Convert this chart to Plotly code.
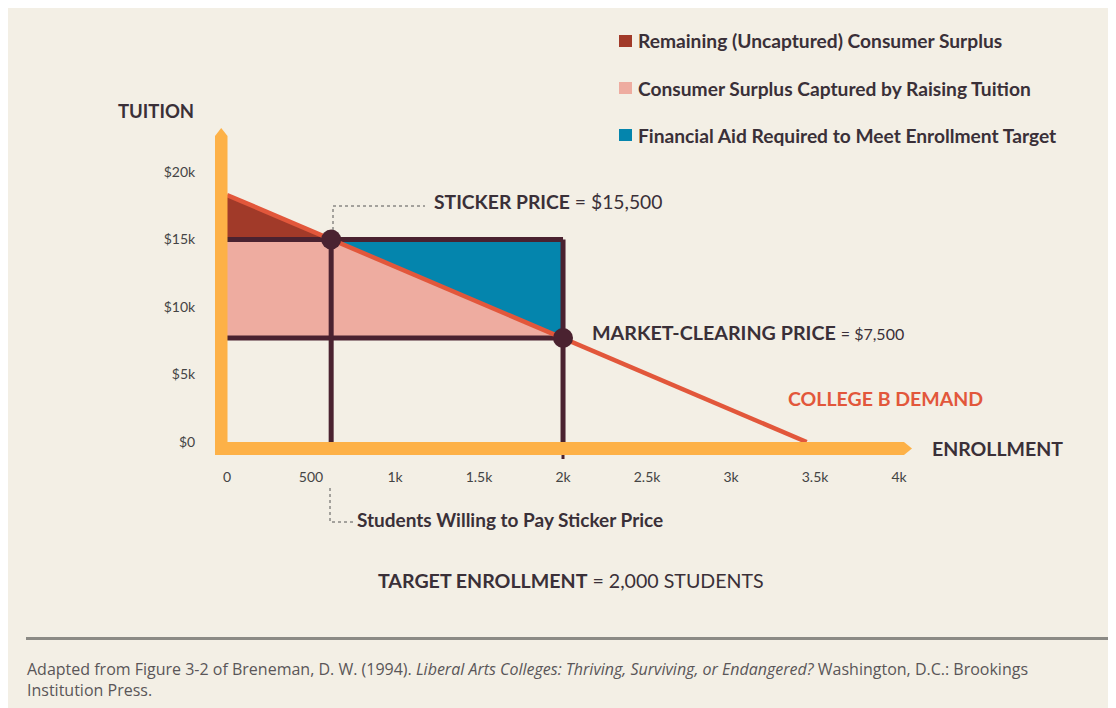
import plotly.graph_objects as go

# ---------------- data ----------------
demand_x = [0, 620, 2000, 3450]          # students
demand_y = [18300, 15000, 7700, 0]       # tuition ($)
sticker_students = 620
sticker_price = 15000
target_students = 2000
clearing_price = 7700

x_tickvals = [0, 500, 1000, 1500, 2000, 2500, 3000, 3500, 4000]
x_ticktext = ["0", "500", "1k", "1.5k", "2k", "2.5k", "3k", "3.5k", "4k"]
y_tickvals = [0, 5000, 10000, 15000, 20000]
y_ticktext = ["$0", "$5k", "$10k", "$15k", "$20k"]

legend_labels = ["Remaining (Uncaptured) Consumer Surplus",
                 "Consumer Surplus Captured by Raising Tuition",
                 "Financial Aid Required to Meet Enrollment Target"]

# ---------------- style ----------------
BG = "#f3efe5"
DARKRED = "#a13a29"
PINK = "#eeaca0"
BLUE = "#0485ad"
PLUM = "#4a2230"
ORANGE = "#fdb147"
DEMAND = "#e2573b"
TXT = "#3a3038"
FONT = "Lato, 'Open Sans', sans-serif"
FOOT_FONT = "'Open Sans', Lato, sans-serif"

OFF = 8  # page body margin
W, H = 1108, 700
L, R, T, B = 219, 204, 120, 266
PW, PH = W - L - R, H - T - B


def px(xp):  # page pixel -> paper x
    return (xp - OFF - L) / PW


def py(yp):  # page pixel -> paper y
    return (H - B - (yp - OFF)) / PH


fig = go.Figure()

# dark red triangle (uncaptured surplus)
fig.add_trace(go.Scatter(
    x=[0, sticker_students, 0], y=[demand_y[0], sticker_price, sticker_price],
    fill="toself", fillcolor=DARKRED, mode="lines", line=dict(width=0),
    hoverinfo="skip", showlegend=False))
# pink region (captured surplus)
fig.add_trace(go.Scatter(
    x=[0, sticker_students, target_students, 0],
    y=[sticker_price, sticker_price, clearing_price, clearing_price],
    fill="toself", fillcolor=PINK, mode="lines", line=dict(width=0),
    hoverinfo="skip", showlegend=False))
# blue triangle (financial aid)
fig.add_trace(go.Scatter(
    x=[sticker_students, target_students, target_students],
    y=[sticker_price, sticker_price, clearing_price],
    fill="toself", fillcolor=BLUE, mode="lines", line=dict(width=0),
    hoverinfo="skip", showlegend=False))

# plum guide lines
for xs, ys in [([0, target_students], [sticker_price, sticker_price]),
               ([0, target_students], [clearing_price, clearing_price]),
               ([sticker_students, sticker_students], [0, sticker_price]),
               ([target_students, target_students], [0, sticker_price])]:
    fig.add_trace(go.Scatter(x=xs, y=ys, mode="lines",
                             line=dict(color=PLUM, width=5),
                             hoverinfo="skip", showlegend=False))

# demand curve
fig.add_trace(go.Scatter(x=demand_x, y=demand_y, mode="lines",
                         line=dict(color=DEMAND, width=4.5),
                         hoverinfo="skip", showlegend=False))

# points
fig.add_trace(go.Scatter(x=[sticker_students, target_students],
                         y=[sticker_price, clearing_price], mode="markers",
                         marker=dict(color=PLUM, size=20),
                         hoverinfo="skip", showlegend=False))

shapes = []

# orange axes with arrow heads
vx0, vx1 = px(215), px(227.5)
shapes.append(dict(type="path", xref="paper", yref="paper", layer="above",
                   path=f"M {vx0} {py(455)} L {vx0} {py(136)} L {px(221.2)} {py(128)} "
                        f"L {vx1} {py(136)} L {vx1} {py(455)} Z",
                   fillcolor=ORANGE, line=dict(width=0)))
hy0, hy1 = py(442), py(455)
shapes.append(dict(type="path", xref="paper", yref="paper", layer="above",
                   path=f"M {px(215)} {hy0} L {px(904)} {hy0} L {px(912)} {py(448.5)} "
                        f"L {px(904)} {hy1} L {px(215)} {hy1} Z",
                   fillcolor=ORANGE, line=dict(width=0)))
# small tick below axis at target enrollment
shapes.append(dict(type="line", xref="paper", yref="paper", layer="above",
                   x0=px(563), x1=px(563), y0=py(455), y1=py(459),
                   line=dict(color=PLUM, width=3)))

# dotted leaders
shapes.append(dict(type="path", xref="paper", yref="paper",
                   path=f"M {px(333)} {py(230)} L {px(333)} {py(206)} L {px(425)} {py(206)}",
                   line=dict(color="#555", width=1, dash="dot")))
shapes.append(dict(type="path", xref="paper", yref="paper",
                   path=f"M {px(330)} {py(488)} L {px(330)} {py(522)} L {px(355)} {py(522)}",
                   line=dict(color="#555", width=1, dash="dot")))

# footer rule
shapes.append(dict(type="line", xref="paper", yref="paper",
                   x0=px(26), x1=px(W + OFF), y0=py(638.5), y1=py(638.5),
                   line=dict(color="#8b8a85", width=3)))

# legend squares
leg_colors = [DARKRED, PINK, BLUE]
leg_y = [41, 88, 135]
for c, yy in zip(leg_colors, leg_y):
    shapes.append(dict(type="rect", xref="paper", yref="paper",
                       x0=px(619), x1=px(632), y0=py(yy - 6), y1=py(yy + 6),
                       fillcolor=c, line=dict(width=0)))

annotations = []


def ann(text, xp, yp, size, color=TXT, anchor="left", family=FONT):
    annotations.append(dict(text=text, xref="paper", yref="paper",
                            x=px(xp), y=py(yp), xanchor=anchor, yanchor="middle",
                            showarrow=False, font=dict(size=size, color=color, family=family)))


for lab, yy in zip(legend_labels, leg_y):
    ann(f"<b>{lab}</b>", 636, yy, 19.2)

ann("<b>TUITION</b>", 116, 111, 18.5)
ann("<b>ENROLLMENT</b>", 930, 448, 19.5)
ann("<b>STICKER PRICE</b> = $15,500", 432, 201, 19.3)
ann("<b>MARKET-CLEARING PRICE</b> <span style='font-size:16px'>= $7,500</span>", 590, 332, 19.7)
ann("<b>COLLEGE B DEMAND</b>", 786, 398, 19.5, color=DEMAND)
ann("<b>Students Willing to Pay Sticker Price</b>", 355, 519, 19)
ann("<b>TARGET ENROLLMENT</b> = 2,000 STUDENTS", 376, 580, 19.6)
ann("Adapted from Figure 3-2 of Breneman, D. W. (1994). <i>Liberal Arts Colleges: Thriving, "
    "Surviving, or Endangered?</i> Washington, D.C.: Brookings", 25, 669, 16, color="#5a5658",
    family=FOOT_FONT)
ann("Institution Press.", 25, 690, 16, color="#5a5658", family=FOOT_FONT)

fig.update_layout(
    width=W, height=H,
    margin=dict(l=L, r=R, t=T, b=B, pad=0),
    paper_bgcolor=BG, plot_bgcolor=BG,
    shapes=shapes, annotations=annotations,
    font=dict(family=FONT, color=TXT),
    xaxis=dict(range=[0, 4077], tickvals=x_tickvals, ticktext=x_ticktext,
               showgrid=False, zeroline=False, showline=False,
               ticks="outside", ticklen=22, tickcolor="rgba(0,0,0,0)",
               tickfont=dict(size=14, color="#444", family=FONT), fixedrange=True),
    yaxis=dict(range=[0, 23260], tickvals=y_tickvals, ticktext=y_ticktext,
               showgrid=False, zeroline=False, showline=False,
               ticks="outside", ticklen=28, tickcolor="rgba(0,0,0,0)",
               tickfont=dict(size=14, color="#444", family=FONT), fixedrange=True),
)

fig.write_html("out.html")
